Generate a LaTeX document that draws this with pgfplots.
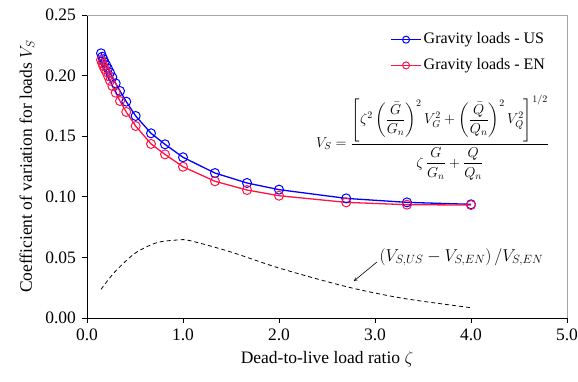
\documentclass[border=0pt]{standalone}
\usepackage{amsmath}
\usepackage{fontspec}
\setmainfont{Liberation Serif}
\usepackage{pgfplots}
\pgfplotsset{compat=1.18}
\definecolor{usblue}{RGB}{0,0,255}
\definecolor{enred}{RGB}{255,20,70}
\begin{document}
\fontsize{17.5bp}{21bp}\selectfont
\begin{tikzpicture}
\begin{axis}[
  name=main,
  scale only axis, width=480bp, height=303bp,
  xmin=0, xmax=5, ymin=0, ymax=0.25,
  axis x line*=bottom, axis y line*=left,
  axis line style={-, black, line width=0.9bp},
  xtick={0,1,2,3,4,5}, ytick={0,0.05,0.1,0.15,0.2,0.25},
  tick align=outside, major tick length=5bp,
  tick style={black, line width=0.8bp},
  /pgf/number format/assume math mode=true,
  xticklabel style={/pgf/number format/.cd, fixed, fixed zerofill, precision=1},
  yticklabel style={/pgf/number format/.cd, fixed, fixed zerofill, precision=2},
  xlabel={Dead-to-live load ratio $\zeta$},
  ylabel={Coefficient of variation for loads $V_S$},
  xlabel style={yshift=1bp},
  ylabel style={yshift=-1bp},
  legend style={at={(0.965,0.955)}, anchor=north east, draw=none, fill=none,
    row sep=8bp, font=\fontsize{16bp}{19bp}\selectfont},
  legend cell align=left,
  legend image code/.code={\draw[#1,mark size=3.5bp] (0bp,0bp) -- (15bp,0bp) plot coordinates {(15bp,0bp)} -- (30bp,0bp);},
  clip=false,
]
\draw[gray!70, line width=0.8bp] (rel axis cs:0,1) -- (rel axis cs:1,1) -- (rel axis cs:1,0);
\addplot[usblue, line width=1.3bp, mark=o, mark size=4.5bp, mark options={line width=1bp}] coordinates {
(0.146,0.2184)(0.159,0.2156)(0.170,0.2135)(0.184,0.2110)(0.201,0.2085)(0.219,0.2057)
(0.240,0.2024)(0.264,0.1986)(0.299,0.1936)(0.344,0.1873)(0.409,0.1785)(0.507,0.1667)
(0.667,0.1524)(0.8125,0.1433)(1.0,0.1326)(1.333,0.1196)(1.667,0.1114)(2.0,0.1059)
(2.7,0.0987)(3.333,0.0954)(4.0,0.0938)};
\addlegendentry{Gravity loads - US}
\addplot[enred, line width=1.3bp, mark=o, mark size=4.5bp, mark options={line width=1bp}] coordinates {
(0.146,0.2129)(0.159,0.2101)(0.170,0.2079)(0.184,0.2054)(0.201,0.2030)(0.219,0.1997)
(0.240,0.1958)(0.264,0.1914)(0.299,0.1859)(0.344,0.1790)(0.409,0.1700)(0.507,0.1584)
(0.667,0.1436)(0.8125,0.1350)(1.0,0.1248)(1.333,0.1128)(1.667,0.1056)(2.0,0.1009)
(2.7,0.0954)(3.333,0.0935)(4.0,0.0932)};
\addlegendentry{Gravity loads - EN}
\addplot[black, line width=0.8bp, dash pattern=on 4bp off 3bp, smooth, forget plot] coordinates {
(0.146,0.0237)(0.292,0.0382)(0.5,0.0534)(0.726,0.0621)(0.951,0.0644)(1.073,0.0638)
(1.49,0.0547)(2.01,0.0410)(2.705,0.0258)(3.295,0.0162)(4.0,0.0085)};
\node[anchor=center, font=\fontsize{14bp}{16bp}\selectfont] at (axis cs:3.6,0.1489) {$V_S=\dfrac{\left[\zeta^2\left(\dfrac{\bar G}{G_n}\right)^{2}V_G^2+\left(\dfrac{\bar Q}{Q_n}\right)^{2}V_Q^2\right]^{1/2}}{\zeta\,\dfrac{\bar G}{G_n}+\dfrac{\bar Q}{Q_n}}$};
\node[anchor=center, font=\fontsize{16.5bp}{19bp}\selectfont] at (axis cs:3.9,0.0503) {$\left(V_{S,US}-V_{S,EN}\right)/V_{S,EN}$};
\draw[-stealth, line width=0.6bp] (axis cs:3.02,0.0462) -- (axis cs:2.78,0.0305);
\end{axis}
\pgfresetboundingbox
\path ([shift={(-87bp,-64bp)}]main.south west) rectangle ([shift={(11bp,15bp)}]main.north east);
\end{tikzpicture}
\end{document}
